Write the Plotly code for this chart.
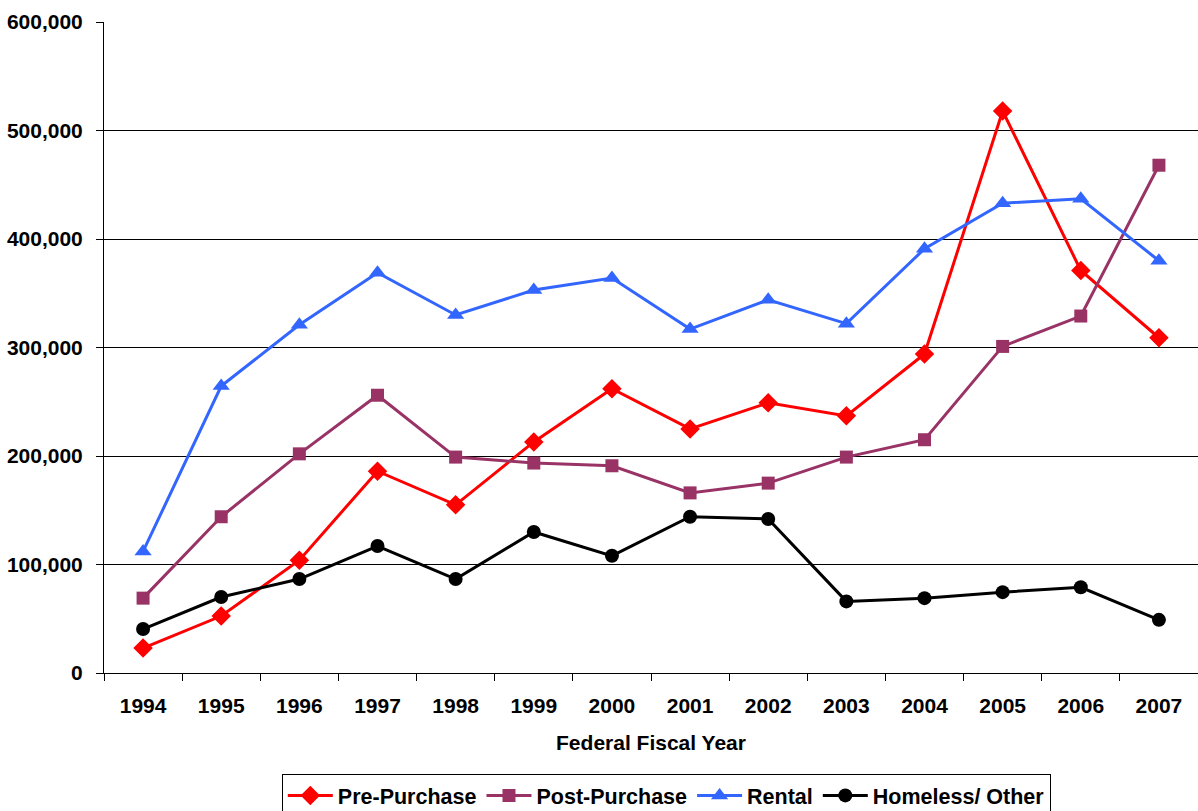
import plotly.graph_objects as go

years = ["1994", "1995", "1996", "1997", "1998", "1999", "2000",
         "2001", "2002", "2003", "2004", "2005", "2006", "2007"]
pre_purchase = [23000, 52500, 104000, 186000, 155000, 213000, 262000,
                225000, 249000, 237000, 294000, 518000, 371000, 309000]
post_purchase = [69000, 144000, 202000, 256000, 199000, 193500, 191000,
                 166000, 175000, 199000, 215000, 301000, 329000, 468000]
rental = [112000, 264500, 321000, 369000, 330000, 353000, 364000,
          317000, 344000, 322000, 391000, 433000, 437000, 380000]
homeless = [40500, 70000, 86600, 117000, 86600, 130000, 108000,
            144000, 142000, 66000, 69000, 74500, 79000, 49000]

series = [
    ("Pre-Purchase", pre_purchase, "#FF0000", "diamond", 15),
    ("Post-Purchase", post_purchase, "#993366", "square", 13),
    ("Rental", rental, "#3366FF", "triangle-up", 15),
    ("Homeless/ Other", homeless, "#000000", "circle", 14),
]

FAM = "Liberation Sans, Arial, sans-serif"

fig = go.Figure()
for name, vals, color, sym, size in series:
    fig.add_trace(go.Scatter(
        x=years, y=vals, name=name, mode="lines+markers",
        line=dict(color=color, width=3),
        marker=dict(symbol=sym, size=size, color=color),
    ))

fig.update_layout(
    width=1198, height=811,
    margin=dict(l=104, r=0, t=22, b=138, autoexpand=False),
    paper_bgcolor="white", plot_bgcolor="white",
    font=dict(family=FAM, size=21, color="black"),
    showlegend=True,
    legend=dict(orientation="h", x=0.514, xanchor="center", y=-0.155, yanchor="top",
                bordercolor="black", borderwidth=1,
                font=dict(size=21.5, family=FAM, weight="bold"),
                itemwidth=45, tracegroupgap=0),
)
fig.update_xaxes(
    type="category", tickson="boundaries", ticks="outside", ticklen=7, tickcolor="black",
    showline=True, linecolor="black", linewidth=1, showgrid=False, automargin=False,
    tickfont=dict(size=21, family=FAM, weight="bold"), ticklabelstandoff=14,
    title=dict(text="<b>Federal Fiscal Year</b>", font=dict(size=21, family=FAM), standoff=19),
    range=[-0.5, 13.5],
)
fig.update_yaxes(
    range=[0, 600000], dtick=100000, tickformat=",", ticks="outside", ticklen=7, tickcolor="black",
    showline=True, linecolor="black", linewidth=1, automargin=False,
    showgrid=True, gridcolor="black", gridwidth=1, zeroline=False,
    tickfont=dict(size=21, family=FAM, weight="bold"), ticklabelstandoff=9,
)

post = (
    "document.documentElement.style.margin='0';"
    "document.documentElement.style.overflow='hidden';"
    "document.body.style.margin='0';"
    "document.body.style.overflow='hidden';"
    "var gd=document.getElementById('{plot_id}');"
    "Plotly.relayout(gd,{width:1198,height:811});"
)
fig.write_html("out.html", post_script=post, config={"displayModeBar": False})
